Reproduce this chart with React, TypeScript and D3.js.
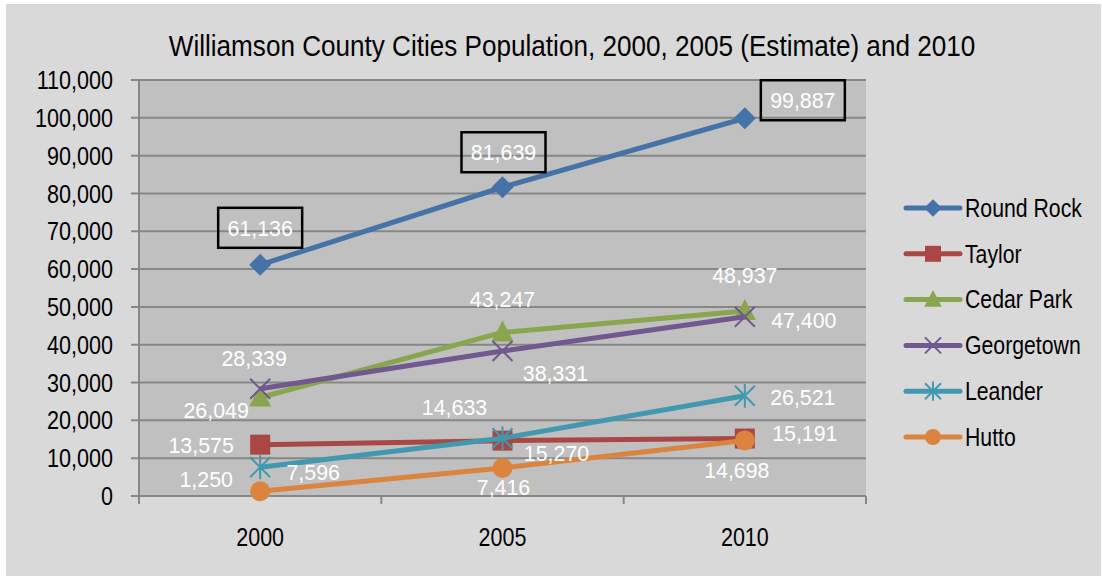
import * as d3 from "d3";

const years = ["2000", "2005", "2010"];
const cities = ["Round Rock", "Taylor", "Cedar Park", "Georgetown", "Leander", "Hutto"];
const roundRock = [61136, 81639, 99887];
const taylor = [13575, 14633, 15191];
const cedarPark = [26049, 43247, 48937];
const georgetown = [28339, 38331, 47400];
const leander = [7596, 15270, 26521];
const hutto = [1250, 7416, 14698];
const yTicks = [0, 10000, 20000, 30000, 40000, 50000, 60000, 70000, 80000, 90000, 100000, 110000];

const seriesValues = [roundRock, taylor, cedarPark, georgetown, leander, hutto];
const colors = ["#4572a7", "#aa4643", "#89a54e", "#71588f", "#4198af", "#db843d"];
const markers = ["diamond", "square", "triangle", "x", "star", "circle"];
// label offsets (dx, dy) from each point
const labelOffsets = [
  [[0, -37], [1, -35], [58, -18]],
  [[-59, 0], [-48, -34], [60, -6]],
  [[-44, 12], [0, -34], [0, -36]],
  [[-6, -31], [53, 22], [59, 3]],
  [[53, 5], [54, 15], [58, 1]],
  [[-54, -12], [1, 19], [-8, 30]],
];
const boxed = [true, false, false, false, false, false];

const FONT = "'Liberation Sans', Arial, sans-serif";

// condensed text: Liberation Sans squeezed horizontally
function T({ x, y, size, sx, anchor = "start", fill = "#000", children }: any) {
  return (
    <text
      transform={`translate(${x},${y}) scale(${sx},1)`}
      dy="0.35em"
      textAnchor={anchor}
      fontSize={size}
      fill={fill}
    >
      {children}
    </text>
  );
}

function Marker({ kind, x, y, color, s = 1 }: { kind: string; x: number; y: number; color: string; s?: number }) {
  if (kind === "diamond") {
    const r = 11 * s;
    return <path d={`M${x},${y - r}L${x + r},${y}L${x},${y + r}L${x - r},${y}Z`} fill={color} />;
  }
  if (kind === "square") return <rect x={x - 10 * s} y={y - 10 * s} width={20 * s} height={20 * s} fill={color} />;
  if (kind === "triangle")
    return <path d={`M${x},${y - 12 * s}L${x + 11 * s},${y + 9 * s}L${x - 11 * s},${y + 9 * s}Z`} fill={color} />;
  if (kind === "circle") return <circle cx={x} cy={y} r={10 * s} fill={color} />;
  const r = 10 * s;
  if (kind === "x")
    return <path d={`M${x - r},${y - r}L${x + r},${y + r}M${x + r},${y - r}L${x - r},${y + r}`} stroke={color} strokeWidth={2} />;
  return (
    <path
      d={`M${x - r},${y - r}L${x + r},${y + r}M${x + r},${y - r}L${x - r},${y + r}M${x},${y - r * 1.2}L${x},${y + r * 1.2}`}
      stroke={color}
      strokeWidth={2}
    />
  );
}

export default function App() {
  const left = 139, right = 866, top = 80, bottom = 496;
  const x = d3.scaleBand().domain(years).range([left, right]);
  const y = d3.scaleLinear().domain([0, 110000]).range([bottom, top]);
  const cx = (i: number) => x(years[i])! + x.bandwidth() / 2;
  const line = d3
    .line<number>()
    .x((_, i) => cx(i))
    .y((d) => y(d));
  const fmt = d3.format(",");
  const boundaries = [...years.map((yr) => x(yr)!), right];

  return (
    <svg width={1102} height={577} style={{ position: "absolute", left: 0, top: 0, fontFamily: FONT }}>
      <rect x={0} y={0} width={1102} height={577} fill="#ffffff" />
      <rect x={6} y={4} width={1095} height={572} fill="#d9d9d9" />
      <rect x={left} y={top} width={right - left} height={bottom - top} fill="#c0c0c0" />

      <T x={572} y={45} size={30} sx={0.87} anchor="middle">
        Williamson County Cities Population, 2000, 2005 (Estimate) and 2010
      </T>

      {yTicks.map((t) => (
        <g key={t}>
          <line x1={left - 8} x2={right} y1={y(t)} y2={y(t)} stroke="#878787" strokeWidth={2} />
          <T x={113} y={y(t)} size={26} sx={0.83} anchor="end">
            {fmt(t)}
          </T>
        </g>
      ))}
      <line x1={left} x2={left} y1={top} y2={bottom + 8} stroke="#878787" strokeWidth={2} />
      {boundaries.map((b) => (
        <line key={b} x1={b} x2={b} y1={bottom} y2={bottom + 8} stroke="#878787" strokeWidth={2} />
      ))}
      {years.map((yr, i) => (
        <T key={yr} x={cx(i)} y={537} size={25} sx={0.86} anchor="middle">
          {yr}
        </T>
      ))}

      {seriesValues.map((vals, si) => (
        <g key={cities[si]}>
          <path d={line(vals)!} fill="none" stroke={colors[si]} strokeWidth={5} strokeLinejoin="round" />
          {vals.map((v, i) => (
            <Marker key={i} kind={markers[si]} x={cx(i)} y={y(v)} color={colors[si]} />
          ))}
        </g>
      ))}

      {seriesValues.map((vals, si) =>
        vals.map((v, i) => {
          const lx = cx(i) + labelOffsets[si][i][0];
          const ly = y(v) + labelOffsets[si][i][1];
          return (
            <g key={`${si}-${i}`}>
              {boxed[si] && (
                <rect x={lx - 42} y={ly - 20} width={84} height={40} fill="none" stroke="#000" strokeWidth={2.5} />
              )}
              <T x={lx} y={ly} size={23} sx={0.93} anchor="middle" fill="#ffffff">
                {fmt(v)}
              </T>
            </g>
          );
        })
      )}

      {cities.map((c, i) => {
        const ly = 208 + i * 45.8;
        return (
          <g key={c}>
            <line x1={906} x2={960} y1={ly} y2={ly} stroke={colors[i]} strokeWidth={5} strokeLinecap="round" />
            <Marker kind={markers[i]} x={933} y={ly} color={colors[i]} s={0.8} />
            <T x={965} y={ly} size={25} sx={0.85}>
              {c}
            </T>
          </g>
        );
      })}
    </svg>
  );
}
